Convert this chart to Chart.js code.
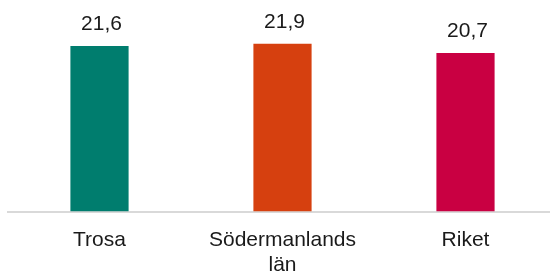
<!DOCTYPE html>
<html>
<head>
<meta charset="utf-8">
<script src="https://cdn.jsdelivr.net/npm/chart.js@4"></script>
<style>
  html, body { margin: 0; padding: 0; background: #fff; overflow: hidden; }
  #wrap { position: relative; width: 557px; height: 286px; }
</style>
</head>
<body>
<div id="wrap"><canvas id="chart"></canvas></div>
<script>
const categories = ["Trosa", ["Södermanlands", "län"], "Riket"]
const values = [21.6, 21.9, 20.7]
const barColors = ["#007d6e", "#d6400f", "#c90042"]

const fontFamily = "'Liberation Sans', Arial, sans-serif"

// value labels above each bar, swedish decimal comma
const valueLabels = {
    id: "valueLabels",
    afterDatasetsDraw(chart) {
        const {ctx} = chart
        const meta = chart.getDatasetMeta(0)
        ctx.save()
        ctx.font = `21px ${fontFamily}`
        ctx.fillStyle = "#1a1a1a"
        ctx.textAlign = "center"
        ctx.textBaseline = "alphabetic"
        meta.data.forEach((bar, i) => {
            const txt = values[i].toFixed(1).replace(".", ",")
            ctx.fillText(txt, bar.x + 2, bar.y - 16)
        })
        ctx.restore()
    }
}

const ctx = document.querySelector("#chart")

new Chart(ctx, {
    type: "bar",
    data: {
        labels: categories,
        datasets: [{
            data: values,
            backgroundColor: barColors,
            borderWidth: 0,
            barPercentage: 0.318,
            categoryPercentage: 1
        }]
    },
    options: {
        responsive: true,
        maintainAspectRatio: false,
        animation: false,
        layout: {
            padding: {top: 20, left: 8, right: 0, bottom: 0}
        },
        scales: {
            x: {
                grid: {display: false},
                border: {display: true, color: "#d9d9d9", width: 2},
                ticks: {
                    padding: 8,
                    color: "#1a1a1a",
                    maxRotation: 0,
                    autoSkip: false,
                    font: {family: fontFamily, size: 21, lineHeight: 1.2}
                }
            },
            y: {
                display: false,
                min: 0,
                max: 25
            }
        },
        plugins: {
            legend: {display: false},
            tooltip: {enabled: false}
        }
    },
    plugins: [valueLabels]
})
</script>
</body>
</html>
